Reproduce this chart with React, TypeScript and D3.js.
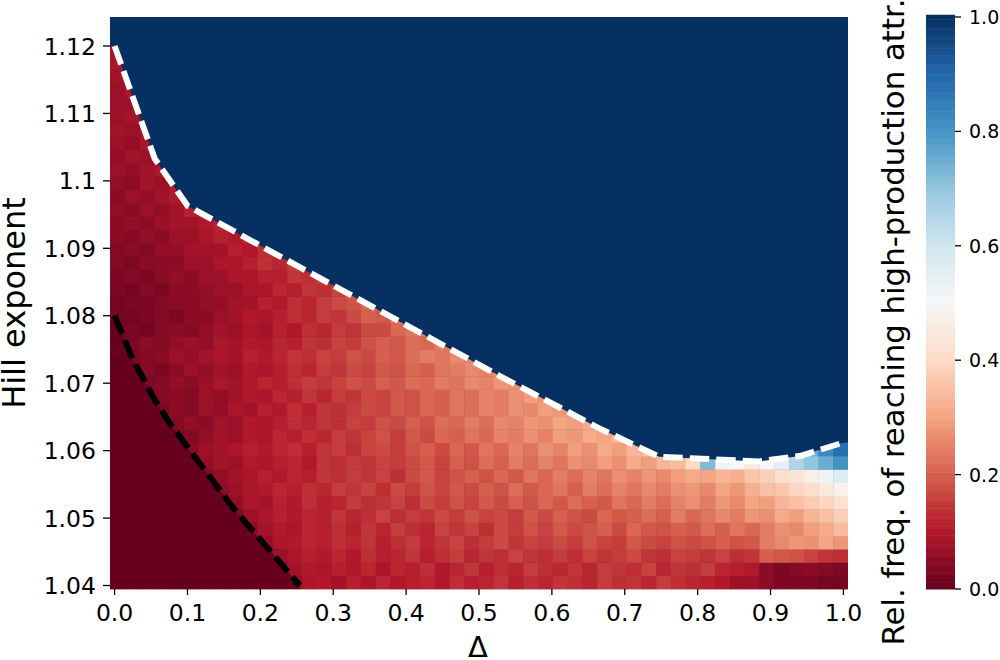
import React from "react";
import * as d3 from "d3";

const W = 1000, H = 660;
const plot = { left: 110, right: 848, top: 17, bottom: 589 };
const bar = { left: 926, right: 955 };

const xTicks = [0, 0.1, 0.2, 0.3, 0.4, 0.5, 0.6, 0.7, 0.8, 0.9, 1.0];
const yTicks = [1.04, 1.05, 1.06, 1.07, 1.08, 1.09, 1.1, 1.11, 1.12];
const yTickLabels = ["1.04", "1.05", "1.06", "1.07", "1.08", "1.09", "1.1", "1.11", "1.12"];
const barTicks = [0, 0.2, 0.4, 0.6, 0.8, 1.0];

const rdBuStops = ["#67001f", "#b2182b", "#d6604d", "#f4a582", "#fddbc7", "#f7f7f7", "#d1e5f0", "#92c5de", "#4393c3", "#2166ac", "#053061"];

// white dashed boundary: [delta, hill]
const upperDelta = [0, 0.055, 0.1, 0.254, 0.528, 0.665, 0.747, 0.884, 0.94, 1.0];
const upperHill = [1.12, 1.1033, 1.0963, 1.0872, 1.0711, 1.0633, 1.0591, 1.0584, 1.0592, 1.0612];
// black dashed boundary
const lowerDelta = [0, 0.024, 0.053, 0.076, 0.117, 0.162, 0.254];
const lowerHill = [1.08, 1.0738, 1.0679, 1.064, 1.0581, 1.0516, 1.04];

// leading columns at zero, per row (bottom row first)
const zeroCols = [12, 11, 10, 10, 9, 8, 7, 7, 6, 5, 4, 4, 3, 3, 2, 2, 1, 1];

// relative frequency in percent, per row from the bottom, after the leading zero columns
const rows = [
  [6,9,10,8,11,9,12,10,11,12,10,13,11,12,14,11,13,12,14,13,12,15,13,14,12,15,13,12,11,10,7,7,5,3,3,3,2,2],
  [5,8,10,9,11,10,12,9,12,11,13,10,12,14,11,13,12,15,13,12,14,12,15,14,13,16,12,14,13,15,12,11,10,5,3,4,5,4,3],
  [4,7,9,11,10,12,10,13,11,12,14,11,13,15,12,14,13,16,14,13,15,13,16,14,15,17,14,13,16,15,14,16,13,14,20,19,18,16,14,13],
  [6,9,10,12,11,13,12,14,11,13,15,12,14,16,13,15,17,14,16,15,17,15,18,16,15,19,17,16,18,17,18,20,18,19,24,26,28,27,30,28],
  [5,8,10,9,12,11,13,11,14,12,15,13,12,16,14,16,13,17,15,18,16,19,17,18,20,17,21,19,18,20,19,22,20,23,21,24,27,26,29,31,34],
  [4,7,9,11,10,12,11,14,12,13,16,13,15,14,17,15,18,16,17,15,19,17,20,18,17,21,19,20,22,20,24,21,23,26,24,28,27,31,29,33,35,38],
  [4,6,9,8,11,10,13,11,12,15,13,14,16,13,17,15,18,16,19,17,20,18,21,19,22,20,19,23,21,24,22,25,27,24,28,26,30,29,33,35,37,39,42],
  [5,7,9,10,12,11,13,12,15,14,16,13,17,15,18,16,19,17,20,18,22,19,21,23,20,24,22,25,23,26,24,27,28,26,30,28,32,35,36,39,41,45,48],
  [4,6,8,9,11,10,12,11,14,13,15,14,16,13,17,19,16,18,20,18,21,19,23,21,24,22,25,23,27,25,28,26,29,31,30,33,32,36,38,41,43,47,52,56],
  [3,6,8,7,10,9,11,12,10,14,13,15,14,16,15,17,19,16,20,18,22,20,24,22,25,23,27,26,29,27,31,29,33,34,40,72,52,50,45,50,55,65,70,75,80],
  [3,5,7,8,9,11,10,12,13,11,14,15,13,16,17,15,18,20,17,21,19,23,21,25,23,27,25,29,27,31,29,33,35,37,38,40,42,45,50,55,60,65,70,75,82,88],
  [3,4,6,8,7,10,9,12,11,13,12,15,14,16,18,15,19,17,21,20,23,21,25,24,27,25,29,28,31,30,33,32,34],
  [2,4,6,5,8,7,10,9,11,13,12,14,13,16,15,18,17,20,18,22,21,24,22,26,25,28,27,30,29,31,30,33],
  [3,5,4,7,6,9,8,11,10,13,11,14,13,15,17,16,19,18,21,20,23,22,25,24,27,26,29,28,30,32],
  [2,4,5,4,7,6,8,10,9,12,11,14,12,15,14,17,16,19,18,21,20,23,22,25,24,27,29,28,31],
  [3,4,6,5,7,9,8,10,12,11,13,15,14,16,18,17,20,19,22,21,24,23,26,25,28,27,30,32],
  [2,4,3,5,7,6,8,7,10,9,11,13,12,15,14,17,16,19,18,21,20,23,24,26,25,28,30],
  [3,4,5,7,6,8,9,8,11,10,12,14,13,16,15,18,17,20,19,22,24,23,26,25,28],
  [2,3,5,4,6,7,6,9,8,10,9,12,11,14,13,16,15,18,20,19,22,21,24,26,27],
  [2,3,2,4,5,4,6,8,7,9,8,11,10,13,12,15,14,17,17,21,23,25,27],
  [2,2,3,4,3,5,5,7,8,10,9,11,13,12,15,14,17,20,19,23,25],
  [2,3,3,4,5,5,6,6,8,8,11,10,13,12,15,17,18,21,24],
  [3,2,4,3,5,5,6,7,7,9,9,12,11,14,13,16,19,22],
  [3,4,3,5,6,5,7,7,9,9,11,11,14,13,16,20],
  [4,3,5,5,5,7,7,9,9,11,13,12,15,18],
  [4,5,4,6,6,8,8,8,11,10,13,15,18],
  [5,4,6,5,7,7,9,11,10,13,16],
  [5,6,5,7,8,8,10,12,15],
  [6,5,7,6,8,11,13],
  [5,7,6,8,10,12],
  [6,5,8,7,10,12],
  [7,6,8,9,11],
  [6,8,7,10],
  [7,6,9,9],
  [8,7,8,10],
  [7,8,7],
  [7,7,9],
  [7,9,8],
  [8,7],
  [9,8],
  [8],
];

const N_COLS = 50, N_ROWS = 43;
const FONT = "'DejaVu Sans', sans-serif";

export default function App() {
  const x = d3.scaleLinear().domain([-0.0063, 1.0063]).range([plot.left, plot.right]);
  const y = d3.scaleLinear().domain([1.04, 1.12]).range([585.5, 46]);
  const colStep = (plot.right - plot.left) / N_COLS;
  const rowStep = (plot.bottom - plot.top) / N_ROWS;
  const color = d3.scaleLinear<string>()
    .domain(rdBuStops.map((_, i) => i / 10))
    .range(rdBuStops)
    .interpolate(d3.interpolateRgb);
  const barY = d3.scaleLinear().domain([0, 1]).range([plot.bottom, plot.top]);
  const line = d3.line<number>().x((d) => x(upperDelta[d])).y((d) => y(upperHill[d]));
  const lineLow = d3.line<number>().x((d) => x(lowerDelta[d])).y((d) => y(lowerHill[d]));
  const upperPath = line(upperDelta.map((_, i) => i)) as string;
  const lowerPath = lineLow(lowerDelta.map((_, i) => i)) as string;
  const maskPts = [
    [plot.left, plot.top],
    [plot.left, y(upperHill[0])],
    ...upperDelta.map((d, i) => [x(d), y(upperHill[i])]),
    [plot.right, y(upperHill[upperHill.length - 1] + 0.0003)],
    [plot.right, plot.top],
  ];
  const zeroPts = [
    [plot.left, y(lowerHill[0])],
    ...lowerDelta.map((d, i) => [x(d), y(lowerHill[i])]),
    [x(lowerDelta[lowerDelta.length - 1]), plot.bottom],
    [plot.left, plot.bottom],
  ];
  const poly = d3.line();
  const barSteps = d3.range(256).map((i) => i / 255);
  return (
    <svg width={W} height={H} viewBox={`0 0 ${W} ${H}`} style={{ position: "absolute", left: 0, top: 0, background: "#fff" }} fontFamily={FONT}>
      <rect x={plot.left} y={plot.top} width={plot.right - plot.left} height={plot.bottom - plot.top} fill={color(1)} />
      {rows.map((vals, r) => {
        const start = zeroCols[r] ?? 0;
        const cells = [];
        for (let c = 0; c < start; c++) cells.push([c, 0]);
        vals.forEach((v, k) => cells.push([start + k, v / 100]));
        return cells.map(([c, v]) => (
          <rect key={`${r}-${c}`} x={plot.left + c * colStep} y={plot.bottom - (r + 1) * rowStep} width={Math.min(colStep + 0.4, plot.right - plot.left - c * colStep)} height={rowStep + 0.4} fill={color(v)} />
        ));
      })}
      <path d={(poly(maskPts as [number, number][]) as string) + "Z"} fill={color(1)} />
      <path d={(poly(zeroPts as [number, number][]) as string) + "Z"} fill={color(0)} />
      <path d={upperPath} fill="none" stroke="#fff" strokeWidth={6} strokeDasharray="19.5 7" />
      <path d={lowerPath} fill="none" stroke="#000" strokeWidth={6} strokeDasharray="19.5 7" />

      {xTicks.map((t) => (
        <g key={t}>
          <line x1={x(t)} x2={x(t)} y1={plot.bottom} y2={plot.bottom + 6} stroke="#000" strokeWidth={1.3} />
          <text x={x(t)} y={621} textAnchor="middle" fontSize={23.5} fill="#000">{t.toFixed(1)}</text>
        </g>
      ))}
      {yTicks.map((t, i) => (
        <g key={t}>
          <line x1={plot.left - 7} x2={plot.left} y1={y(t)} y2={y(t)} stroke="#000" strokeWidth={1.3} />
          <text x={96} y={y(t) + 8.5} textAnchor="end" fontSize={23.5} fill="#000">{yTickLabels[i]}</text>
        </g>
      ))}
      <text x={478} y={657} textAnchor="middle" fontSize={29} fill="#000">Δ</text>
      <text transform="translate(25,303) rotate(-90)" textAnchor="middle" fontSize={32} fill="#000">Hill exponent</text>

      {barSteps.map((v) => (
        <rect key={v} x={bar.left} width={bar.right - bar.left} y={barY(v) - (plot.bottom - plot.top) / 255} height={(plot.bottom - plot.top) / 255 + 0.5} fill={color(v)} />
      ))}
      {barTicks.map((t) => (
        <g key={t}>
          <line x1={bar.right} x2={bar.right + 6} y1={barY(t)} y2={barY(t)} stroke="#000" strokeWidth={1.3} />
          <text x={969} y={barY(t) + 7} fontSize={19} fill="#000">{t.toFixed(1)}</text>
        </g>
      ))}
      <text transform="translate(904,322) rotate(-90)" textAnchor="middle" fontSize={30.8} fill="#000">Rel. freq. of reaching high-production attr.</text>
    </svg>
  );
}
